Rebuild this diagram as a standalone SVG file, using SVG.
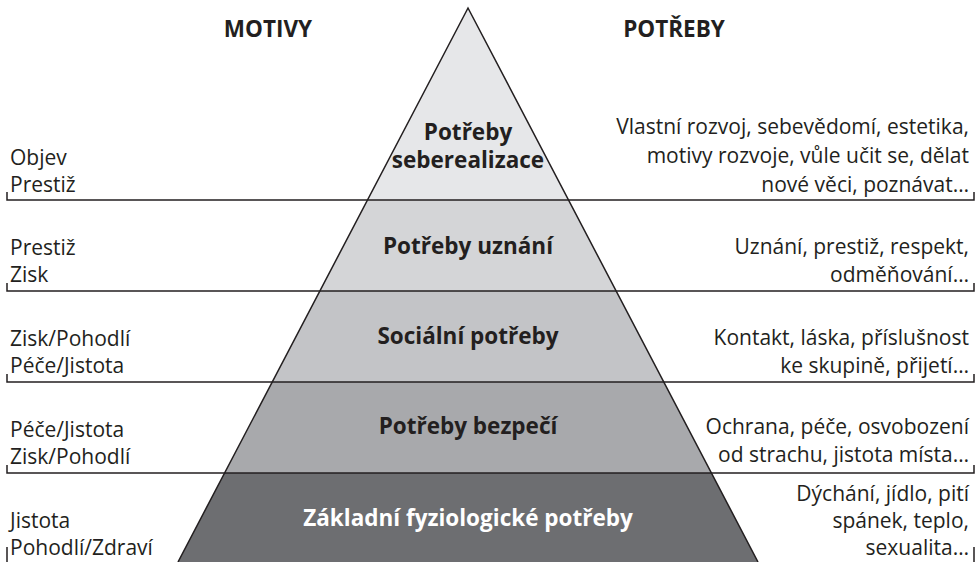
<svg xmlns="http://www.w3.org/2000/svg" width="980" height="562" viewBox="0 0 980 562">
<style>
.t{font-family:"Open Sans","Noto Sans","Liberation Sans",sans-serif;font-size:21px;fill:#231f20}
.r{text-anchor:end}
.h{font-family:"Open Sans","Noto Sans","Liberation Sans",sans-serif;font-size:22.5px;font-weight:bold;fill:#231f20;text-anchor:middle}
.b{font-family:"Open Sans","Noto Sans","Liberation Sans",sans-serif;font-size:22.5px;font-weight:bold;fill:#231f20;text-anchor:middle}
.sep{stroke:#231f20;stroke-width:1.5;fill:none}
.edge{stroke:#231f20;stroke-width:1.5;fill:none;stroke-linejoin:miter}
</style>
<rect width="980" height="562" fill="#ffffff"/>
<g id="headers">
<text class="h" x="268" y="37">MOTIVY</text>
<text class="h" x="674" y="37">POTŘEBY</text>
</g>
<g id="level5">
<polygon points="468,8 568.5,200 367.5,200" fill="#e6e7e9"/>
<text class="b" x="468" y="140">Potřeby</text>
<text class="b" x="468" y="168">seberealizace</text>
</g>
<g id="level4">
<polygon points="367.5,200 568.5,200 616.1,291 319.9,291" fill="#d4d5d7"/>
<text class="b" x="468" y="254">Potřeby uznání</text>
</g>
<g id="level3">
<polygon points="319.9,291 616.1,291 663.8,382 272.2,382" fill="#c3c4c7"/>
<text class="b" x="468" y="344">Sociální potřeby</text>
</g>
<g id="level2">
<polygon points="272.2,382 663.8,382 711.4,473 224.6,473" fill="#a8a9ac"/>
<text class="b" x="468" y="434">Potřeby bezpečí</text>
</g>
<g id="level1">
<polygon points="224.6,473 711.4,473 758,562 178,562" fill="#6d6e71"/>
<text class="b" x="468" y="526" style="fill:#ffffff">Základní fyziologické potřeby</text>
</g>
<g id="connectors">
<path class="sep" d="M7,192 V200 H974 V192"/>
<path class="sep" d="M7,283 V291 H974 V283"/>
<path class="sep" d="M7,374 V382 H974 V374"/>
<path class="sep" d="M7,465 V473 H974 V465"/>
<path class="sep" d="M7,547 V562 M974,547 V562"/>
<path class="edge" d="M178,562 L468,8 L758,562"/>
</g>
<g id="motives">
<text class="t" x="10" y="165">Objev</text>
<text class="t" x="10" y="192">Prestiž</text>
<text class="t" x="10" y="255">Prestiž</text>
<text class="t" x="10" y="282">Zisk</text>
<text class="t" x="10" y="346">Zisk/Pohodlí</text>
<text class="t" x="10" y="373">Péče/Jistota</text>
<text class="t" x="10" y="437">Péče/Jistota</text>
<text class="t" x="10" y="464">Zisk/Pohodlí</text>
<text class="t" x="10" y="528">Jistota</text>
<text class="t" x="10" y="555">Pohodlí/Zdraví</text>
</g>
<g id="needs">
<text class="t r" x="969" y="134">Vlastní rozvoj, sebevědomí, estetika,</text>
<text class="t r" x="969" y="163">motivy rozvoje, vůle učit se, dělat</text>
<text class="t r" x="969" y="192">nové věci, poznávat…</text>
<text class="t r" x="969" y="254">Uznání, prestiž, respekt,</text>
<text class="t r" x="969" y="282">odměňování…</text>
<text class="t r" x="969" y="345">Kontakt, láska, příslušnost</text>
<text class="t r" x="969" y="373">ke skupině, přijetí…</text>
<text class="t r" x="969" y="434">Ochrana, péče, osvobození</text>
<text class="t r" x="969" y="462">od strachu, jistota místa…</text>
<text class="t r" x="969" y="501">Dýchání, jídlo, pití</text>
<text class="t r" x="969" y="528">spánek, teplo,</text>
<text class="t r" x="969" y="555">sexualita…</text>
</g>
</svg>
